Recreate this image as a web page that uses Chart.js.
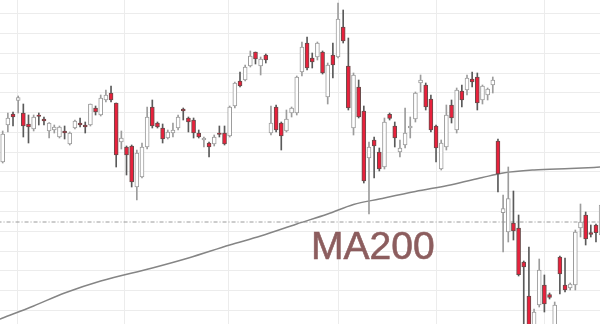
<!DOCTYPE html>
<html><head><meta charset="utf-8">
<script src="https://cdn.jsdelivr.net/npm/chart.js@4.4.1/dist/chart.umd.min.js"></script>
<style>
html,body{margin:0;padding:0;background:#fff;}
#wrap{position:relative;width:600px;height:324px;overflow:hidden;background:#fff;}
#label{position:absolute;left:311px;top:226px;font-family:"Liberation Sans",Arial,sans-serif;font-size:39px;line-height:1;color:#8c5d5e;white-space:nowrap;-webkit-text-stroke:0.6px #8c5d5e;}
</style></head><body>
<div id="wrap"><canvas id="c" width="600" height="324"></canvas><div id="label">MA200</div></div>
<script>
// OHLC values (arbitrary price units)
const opens = [23.8,27.5,28.6,29.95,28.7,27.6,27.1,28.5,28.1,26.9,27.0,26.3,26.9,25.6,27.2,27.7,27.5,27.5,29.2,28.5,
  30.0,30.7,29.7,25.8,25.3,25.4,21.3,22.3,25.3,29.3,27.7,27.2,26.2,26.7,27.2,29.1,28.2,28.0,26.7,26.0,
  25.7,25.6,26.7,26.7,26.4,29.4,31.9,32.0,33.4,34.8,33.4,34.5,26.7,29.3,27.7,26.9,28.7,28.7,32.8,35.7,
  34.2,34.3,34.8,30.3,34.5,34.3,37.3,33.4,27.2,31.3,28.9,24.2,26.0,24.8,23.3,28.57,27.4,24.8,25.5,27.2,
  28.1,31.7,31.5,30.1,27.4,23.1,25.3,29.5,27.0,30.9,31.0,32.1,32.3,30.0,30.5,31.5,25.9,18.73,16.8,17.7,
  17.2,13.8,10.4,7.0,9.5,11.5,10.53,7.0,14.3,11.5,11.2,11.5,17.2,18.5,16.73,17.5,16.5];
const highs = [26.9,28.7,28.8,30.4,29.6,28.5,28.5,28.7,28.3,27.75,27.5,27.4,27.4,26.8,28.0,28.2,27.8,29.6,29.4,30.5,
  31.0,31.4,29.7,26.9,25.4,25.5,25.0,25.7,29.3,30.0,27.8,27.6,27.0,27.7,28.5,29.2,28.3,28.2,27.0,26.3,
  25.8,26.5,27.4,27.4,29.4,31.8,32.8,33.5,34.9,34.8,34.3,34.6,29.4,29.5,27.8,29.0,29.3,32.4,35.8,36.3,
  34.7,35.8,34.9,33.7,35.7,39.7,39.0,36.2,32.7,32.0,29.4,25.8,26.3,25.2,28.2,28.7,27.8,26.0,29.2,28.3,
  30.8,32.5,31.7,30.5,27.5,26.0,29.5,30.0,31.2,31.5,32.5,32.8,32.7,31.5,31.2,32.3,26.1,20.5,23.3,20.9,
  18.5,13.9,15.3,9.1,14.1,12.5,10.7,9.8,14.4,14.2,11.7,17.0,19.6,18.8,17.5,17.6,19.7];
const lows = [23.7,26.8,27.4,28.7,26.3,25.7,26.9,27.5,27.5,26.2,26.7,26.2,26.1,25.5,27.1,27.3,26.7,27.4,28.5,28.4,
  29.8,29.8,23.3,25.1,22.5,21.3,20.0,22.2,25.1,27.2,27.2,25.7,26.1,26.3,27.0,28.0,26.8,26.2,26.2,25.3,
  24.3,25.4,26.3,25.5,26.3,29.2,31.3,31.9,33.3,33.6,32.5,33.7,26.5,26.8,25.0,26.8,28.3,28.5,32.4,33.0,
  33.2,34.0,32.6,29.6,32.2,34.2,35.7,29.0,26.5,28.2,21.7,18.6,22.2,22.9,23.1,28.0,25.3,24.3,25.2,26.2,
  27.8,30.8,29.0,26.8,23.8,23.0,25.0,27.7,26.7,29.3,30.5,31.3,29.0,29.6,30.0,30.7,20.8,14.8,15.8,16.0,
  12.4,7.0,6.0,6.5,9.3,8.8,10.1,6.5,10.6,10.8,11.0,11.0,16.3,15.5,16.3,15.8,16.2];
const closes = [26.6,28.2,28.3,30.25,27.4,27.3,28.3,28.35,27.9,27.7,27.3,27.3,26.7,26.7,27.9,27.5,27.3,29.6,28.8,30.2,
  30.5,30.0,24.5,26.2,24.5,21.8,24.7,25.3,28.3,27.4,27.3,26.1,26.8,27.0,28.3,28.9,27.8,26.7,26.3,26.2,
  25.3,26.3,26.55,25.6,29.3,31.7,31.4,33.3,34.4,34.1,34.1,34.0,27.7,27.0,26.4,28.1,29.2,32.3,35.3,33.2,
  33.8,35.7,32.7,33.5,33.5,38.1,35.9,29.2,32.5,28.3,21.9,25.3,25.4,23.1,27.8,28.17,26.2,25.2,26.7,27.4,
  30.7,32.0,29.3,27.0,25.2,25.7,28.5,28.2,31.0,30.0,32.2,31.8,29.7,31.4,31.1,32.0,22.6,19.13,20.13,16.9,
  12.53,13.3,6.5,8.8,13.0,9.6,10.27,9.5,12.6,11.0,11.6,16.8,17.8,16.1,16.57,16.73,19.5];
// 200-day moving average, read at these candle positions
const maIdx  = [-1,0,6,12,19,29,36,44,50,57,63,68,73,80,87,93,97,103,110,117];
const maVals = [8.0,8.2,9.4,10.7,11.9,13.2,14.2,15.5,16.4,17.6,18.6,19.55,20.1,20.85,21.53,22.25,22.7,23.0,23.15,23.32];
const refLevel = 17.8;
const vGridIdx = [2.83, 23.7, 43.7, 65.0, 84.0, 105.0];

const RED = '#e8213c', HOLLOW_LINE = '#9c9c9c', DARK = '#5a5a5a';
const isUp = opens.map((o,i)=>closes[i] >= o);
const bodies = opens.map((o,i)=>({x:i, y:[o, closes[i]]}));
const wicks = lows.map((l,i)=>({x:i, y:[l, highs[i]]}));
const maData = maIdx.map((x,i)=>({x, y:maVals[i]}));
const refData = [{x:-1,y:refLevel},{x:117,y:refLevel}];

const gridOpts = {color:'#ececec', lineWidth:1, drawTicks:false, offset:false};
new Chart(document.getElementById('c'), {
  type:'bar',
  data:{datasets:[
    {type:'bar', data:bodies, grouped:false, barThickness:4, borderSkipped:false, borderWidth:1,
     backgroundColor:isUp.map(u=>u?'#ffffff':RED), borderColor:isUp.map(u=>u?HOLLOW_LINE:'#6a4a4a')},
    {type:'bar', data:wicks, grouped:false, barThickness:1, borderWidth:0,
     backgroundColor:isUp.map(u=>u?HOLLOW_LINE:DARK)},
    {type:'line', data:maData, borderColor:'#858585', borderWidth:1.5, pointRadius:0, cubicInterpolationMode:'monotone', fill:false},
    {type:'line', data:refData, borderColor:'#9a9a9a', borderWidth:1, borderDash:[4,2,1,2], pointRadius:0, fill:false}
  ]},
  options:{
    responsive:false, animation:false, events:[],
    layout:{padding:0},
    plugins:{legend:{display:false}, tooltip:{enabled:false}},
    scales:{
      x:{type:'linear', min:-0.523, max:115.78, offset:false, ticks:{display:false}, grid:gridOpts, border:{display:false},
         afterBuildTicks:ax=>{ax.ticks = vGridIdx.map(v=>({value:v}));}},
      y:{type:'linear', min:7.6, max:40, ticks:{display:false}, grid:gridOpts, border:{display:false},
         afterBuildTicks:ax=>{const t=[]; for(let k=0;k<16;k++) t.push({value:38.6-1.975*k}); ax.ticks=t;}}
    }
  }
});
</script>
</body></html>
